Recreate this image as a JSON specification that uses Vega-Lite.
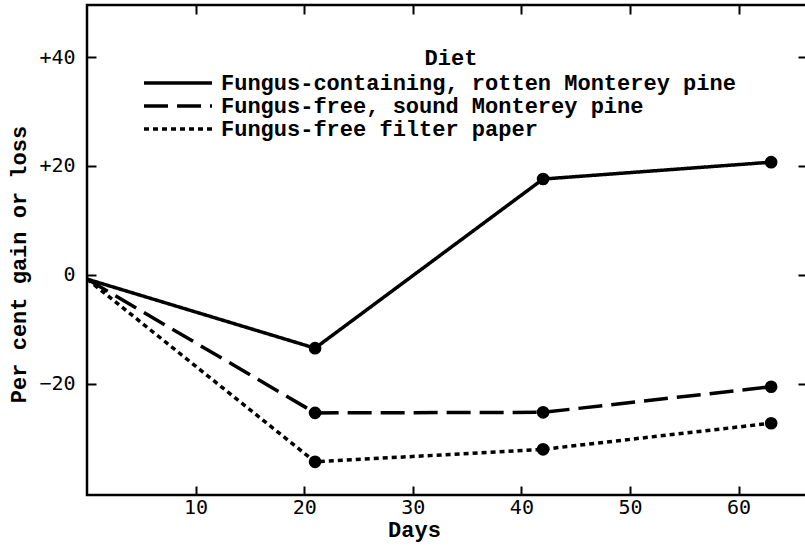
{
  "$schema": "https://vega.github.io/schema/vega-lite/v6.json",
  "width": 720,
  "height": 490,
  "autosize": {"type": "none"},
  "padding": {"left": 87, "top": 5, "right": 0, "bottom": 51},
  "background": "white",
  "config": {
    "view": {"stroke": "black", "strokeWidth": 2.5},
    "font": "Liberation Mono",
    "axis": {
      "domain": false,
      "grid": false,
      "tickColor": "black",
      "tickWidth": 2,
      "tickSize": -9,
      "labelColor": "black",
      "labelFont": "DejaVu Sans Mono",
      "labelFontSize": 20,
      "labelFontWeight": "normal",
      "titleColor": "black",
      "titleFont": "Liberation Mono",
      "titleFontSize": 22,
      "titleFontWeight": "bold"
    }
  },
  "data": {
    "values": [
      {"diet": "Fungus-containing, rotten Monterey pine", "day": 0, "value": -0.8},
      {"diet": "Fungus-containing, rotten Monterey pine", "day": 21, "value": -13.5},
      {"diet": "Fungus-containing, rotten Monterey pine", "day": 42, "value": 17.6},
      {"diet": "Fungus-containing, rotten Monterey pine", "day": 63, "value": 20.7},
      {"diet": "Fungus-free, sound Monterey pine", "day": 0, "value": -0.8},
      {"diet": "Fungus-free, sound Monterey pine", "day": 21, "value": -25.4},
      {"diet": "Fungus-free, sound Monterey pine", "day": 42, "value": -25.3},
      {"diet": "Fungus-free, sound Monterey pine", "day": 63, "value": -20.6},
      {"diet": "Fungus-free filter paper", "day": 0, "value": -0.8},
      {"diet": "Fungus-free filter paper", "day": 21, "value": -34.4},
      {"diet": "Fungus-free filter paper", "day": 42, "value": -32.1},
      {"diet": "Fungus-free filter paper", "day": 63, "value": -27.3}
    ]
  },
  "layer": [
    {
      "mark": {"type": "line", "color": "black", "strokeWidth": 3.5},
      "encoding": {
        "x": {
          "field": "day", "type": "quantitative",
          "scale": {"domain": [0, 66.3], "nice": false, "zero": false},
          "axis": {"orient": "bottom", "values": [10, 20, 30, 40, 50, 60], "title": "Days", "labelPadding": 11, "titleX": 327, "titleY": 41, "titleBaseline": "alphabetic"}
        },
        "y": {
          "field": "value", "type": "quantitative",
          "scale": {"domain": [-40.5, 49.6], "nice": false, "zero": false},
          "axis": {"orient": "left", "values": [40, 20, 0, -20], "labelExpr": "datum.value > 0 ? '+' + datum.label : datum.label", "title": "Per cent gain or loss", "labelPadding": 21, "titlePadding": 8, "titleY": 259}
        },
        "strokeDash": {
          "field": "diet", "type": "nominal",
          "scale": {
            "domain": ["Fungus-containing, rotten Monterey pine", "Fungus-free, sound Monterey pine", "Fungus-free filter paper"],
            "range": [[1, 0], [24, 9], [5, 4]]
          },
          "legend": {
            "orient": "none",
            "legendX": 80,
            "legendY": 43,
            "title": "Diet",
            "titleAnchor": "middle",
            "titleFont": "Liberation Mono",
            "titleFontSize": 22,
            "titleFontWeight": "bold",
            "titleColor": "black",
            "titlePadding": 2,
            "labelFont": "Liberation Mono",
            "labelFontSize": 22,
            "labelFontWeight": "bold",
            "labelColor": "black",
            "labelLimit": 800,
            "symbolType": "M-4,0H4",
            "symbolSize": 289,
            "symbolStrokeWidth": 3.5,
            "symbolStrokeColor": "black",
            "symbolFillColor": "transparent",
            "labelOffset": 32,
            "rowPadding": 1
          }
        }
      }
    },
    {
      "transform": [{"filter": "datum.day > 0"}],
      "mark": {"type": "point", "filled": true, "color": "black", "size": 160, "opacity": 1},
      "encoding": {
        "x": {
          "field": "day", "type": "quantitative",
          "axis": {"orient": "top", "values": [10, 20, 30, 40, 50, 60], "labels": false, "title": null}
        },
        "y": {
          "field": "value", "type": "quantitative",
          "axis": {"orient": "right", "values": [40, 20, 0, -20], "labels": false, "title": null}
        }
      }
    }
  ],
  "resolve": {"axis": {"x": "independent", "y": "independent"}}
}
